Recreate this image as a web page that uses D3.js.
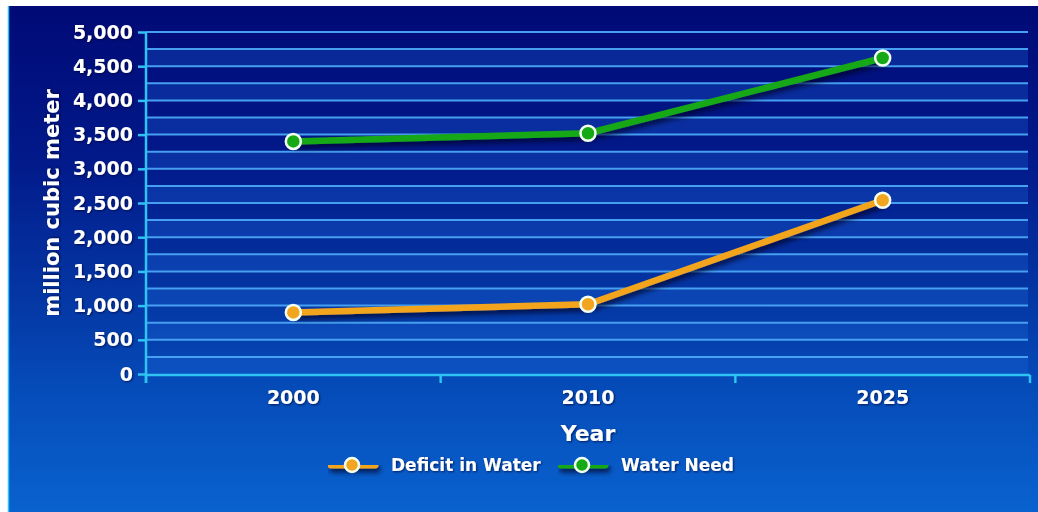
<!DOCTYPE html>
<html>
<head>
<meta charset="utf-8">
<script src="https://cdn.jsdelivr.net/npm/d3@7"></script>
<style>
  html, body { margin: 0; padding: 0; background: #ffffff; }
  svg { display: block; }
  text { font-family: "DejaVu Sans", sans-serif; font-weight: bold; fill: #ffffff; }
</style>
</head>
<body>
<script>
// Water demand vs. deficit (million cubic meter)
const years = ["2000", "2010", "2025"];
const deficitInWater = [900, 1020, 2540];
const waterNeed = [3400, 3520, 4620];
const yTickValues = [0, 500, 1000, 1500, 2000, 2500, 3000, 3500, 4000, 4500, 5000];
const yGridValues = d3.range(0, 5001, 250);
const seriesNames = ["Deficit in Water", "Water Need"];

const W = 1038, H = 512;
const plot = { left: 146, right: 1030, top: 32, bottom: 374 };

const svg = d3.select("body").append("svg").attr("width", W).attr("height", H);
const defs = svg.append("defs");

const bg = defs.append("linearGradient").attr("id", "bg")
  .attr("x1", 0).attr("y1", 0).attr("x2", 0).attr("y2", 1);
[["0%", "#000a76"], ["30%", "#02198a"], ["58%", "#0437a4"], ["75%", "#054bb8"], ["100%", "#0962cf"]]
  .forEach(([o, c]) => bg.append("stop").attr("offset", o).attr("stop-color", c));

const lineShadow = defs.append("filter").attr("id", "lineShadow")
  .attr("filterUnits", "userSpaceOnUse")
  .attr("x", 0).attr("y", 0).attr("width", W).attr("height", H);
lineShadow.append("feDropShadow").attr("dx", 2).attr("dy", 4).attr("stdDeviation", 2.5)
  .attr("flood-color", "#000022").attr("flood-opacity", 0.7);

const textShadow = defs.append("filter").attr("id", "textShadow")
  .attr("x", "-10%").attr("y", "-30%").attr("width", "130%").attr("height", "160%");
textShadow.append("feDropShadow").attr("dx", 1).attr("dy", 1).attr("stdDeviation", 0.8)
  .attr("flood-color", "#000033").attr("flood-opacity", 0.7);

// Frame: white margin, cyan edge, blue gradient panel
svg.append("rect").attr("width", W).attr("height", H).attr("fill", "#ffffff");
svg.append("rect").attr("x", 8).attr("y", 6).attr("width", W - 8).attr("height", H - 6).attr("fill", "url(#bg)");
svg.append("line").attr("x1", 8.5).attr("x2", 8.5).attr("y1", 6).attr("y2", H)
  .attr("stroke", "#2fc3f3").attr("stroke-width", 1.5);

const x = d3.scaleBand().domain(years).range([plot.left, plot.right]).padding(0);
const y = d3.scaleLinear().domain([0, 5000]).range([plot.bottom, plot.top]);
const cx = d => x(d) + x.bandwidth() / 2;

// Alternating bands
const bands = svg.append("g");
for (let i = 0; i < yGridValues.length - 1; i += 2) {
  bands.append("rect")
    .attr("x", plot.left).attr("width", plot.right - 2 - plot.left)
    .attr("y", y(yGridValues[i + 1])).attr("height", y(yGridValues[i]) - y(yGridValues[i + 1]))
    .attr("fill", "#1d66dc").attr("opacity", 0.3);
}

// Grid lines
svg.append("g").selectAll("line").data(yGridValues.filter(v => v > 0)).join("line")
  .attr("x1", plot.left).attr("x2", plot.right - 2)
  .attr("y1", d => y(d)).attr("y2", d => y(d))
  .attr("stroke", "#469ff0").attr("stroke-width", 2);

// Y axis
const yAxis = svg.append("g").attr("transform", `translate(${plot.left},0)`)
  .call(d3.axisLeft(y).tickValues(yTickValues).tickSize(8).tickPadding(5).tickFormat(d3.format(",")));
yAxis.select(".domain").attr("stroke", "#2fc3f3").attr("stroke-width", 2.5).attr("d", `M0,${plot.top}V${plot.bottom + 9}`);
yAxis.selectAll(".tick line").attr("stroke", "#2fc3f3").attr("stroke-width", 2.5);
yAxis.selectAll(".tick text").attr("fill", "#ffffff").attr("font-size", 19)
  .attr("font-family", "DejaVu Sans").attr("font-weight", "bold").attr("filter", "url(#textShadow)");

// X axis
const xAxis = svg.append("g").attr("transform", `translate(0,${plot.bottom + 1})`)
  .call(d3.axisBottom(x).tickSize(0).tickPadding(16));
xAxis.select(".domain").attr("stroke", "#2fc3f3").attr("stroke-width", 2.5).attr("d", `M${plot.left},0H${plot.right}`);
xAxis.selectAll(".tick text").attr("fill", "#ffffff").attr("font-size", 19)
  .attr("font-family", "DejaVu Sans").attr("font-weight", "bold").attr("filter", "url(#textShadow)");
const bounds = years.map(d => x(d)).concat([plot.right]);
xAxis.append("g").selectAll("line").data(bounds).join("line")
  .attr("x1", d => d).attr("x2", d => d).attr("y1", 0).attr("y2", 8)
  .attr("stroke", "#2fc3f3").attr("stroke-width", 2.5);

// Axis titles
svg.append("text").attr("x", (plot.left + plot.right) / 2).attr("y", 441)
  .attr("text-anchor", "middle").attr("font-size", 22).attr("filter", "url(#textShadow)").text("Year");
svg.append("text").attr("transform", `translate(59,${(plot.top + plot.bottom) / 2}) rotate(-90)`)
  .attr("text-anchor", "middle").attr("font-size", 21).attr("filter", "url(#textShadow)").text("million cubic meter");

// Series
const series = [
  { name: seriesNames[0], values: deficitInWater, line: "#f2a51e", dot: "#f2a51e" },
  { name: seriesNames[1], values: waterNeed, line: "#17a817", dot: "#16a916" }
];
const line = d3.line().x((v, i) => cx(years[i])).y(v => y(v));
series.forEach(s => {
  svg.append("path").datum(s.values).attr("d", line)
    .attr("fill", "none").attr("stroke", s.line).attr("stroke-width", 6.5)
    .attr("stroke-linejoin", "round").attr("stroke-linecap", "round")
    .attr("filter", "url(#lineShadow)");
  svg.append("g").selectAll("circle").data(s.values).join("circle")
    .attr("cx", (v, i) => cx(years[i])).attr("cy", v => y(v)).attr("r", 7.5)
    .attr("fill", s.dot).attr("stroke", "#f4fff4").attr("stroke-width", 2.5);
});

// Legend
const legendItems = [{ x: 328, s: series[0] }, { x: 558, s: series[1] }];
legendItems.forEach(({ x: lx, s }) => {
  const g = svg.append("g").attr("transform", `translate(${lx},465)`);
  g.append("line").attr("x1", 3).attr("x2", 47).attr("y1", 0).attr("y2", 0)
    .attr("stroke", s.line).attr("stroke-width", 7).attr("stroke-linecap", "round")
    .attr("filter", "url(#lineShadow)");
  g.append("circle").attr("cx", 24).attr("cy", 0).attr("r", 7)
    .attr("fill", s.dot).attr("stroke", "#f4fff4").attr("stroke-width", 2.5);
  g.append("text").attr("x", 63).attr("y", 6).attr("font-size", 17)
    .attr("filter", "url(#textShadow)").text(s.name);
});
</script>
</body>
</html>
